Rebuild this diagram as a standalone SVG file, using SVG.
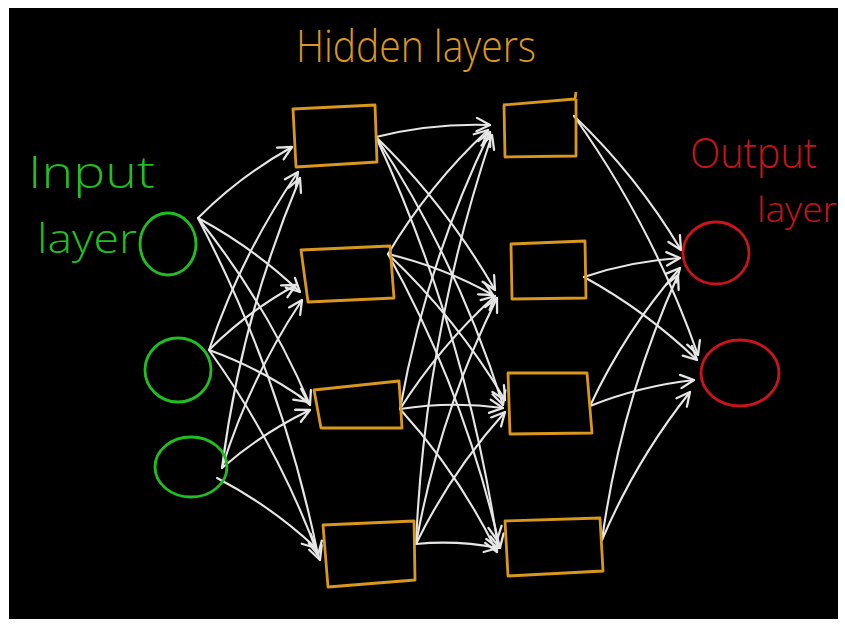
<svg xmlns="http://www.w3.org/2000/svg" width="845" height="625" viewBox="0 0 845 625">
<defs>
<marker id="arr" markerUnits="userSpaceOnUse" markerWidth="16" markerHeight="16" viewBox="0 0 12 12" refX="11" refY="6" orient="auto">
<path d="M1,1 L11,6 L1,11" fill="none" stroke="#e6e6e6" stroke-width="1.7" stroke-linecap="round" stroke-linejoin="round"/>
</marker>
<filter id="soft" x="-5%" y="-5%" width="110%" height="110%"><feGaussianBlur stdDeviation="0.5"/></filter>
</defs>
<style>
.bg{fill:#000}
.box{fill:none;stroke:#d9981c;stroke-width:2.8;stroke-linejoin:round}
.in{fill:none;stroke:#1fbf1f;stroke-width:2.8}
.out{fill:none;stroke:#c8141a;stroke-width:2.8}
.c{fill:none;stroke:#e6e6e6;stroke-width:2.1;stroke-linecap:round;marker-end:url(#arr)}
.t{font-family:"Open Sans","DejaVu Sans",sans-serif;font-weight:300}
</style>
<rect x="0" y="0" width="845" height="625" fill="#fff"/>
<rect class="bg" x="9" y="8" width="829" height="611"/>

<g id="connectors" filter="url(#soft)">
<path class="c" d="M198,218 Q240,176 292,147"/>
<path class="c" d="M198,218 Q254,248 300,292"/>
<path class="c" d="M198,218 Q267,304 310,405"/>
<path class="c" d="M198,218 Q282,378 318,555"/>
<path class="c" d="M209,350 Q241,255 298,172"/>
<path class="c" d="M209,350 Q248,311 296,285"/>
<path class="c" d="M209,350 Q262,369 308,402"/>
<path class="c" d="M209,350 Q279,447 320,560"/>
<path class="c" d="M222,468 Q241,318 300,178"/>
<path class="c" d="M222,468 Q250,378 302,300"/>
<path class="c" d="M222,468 Q262,433 310,410"/>
<path class="c" d="M217,478 Q271,506 316,548"/>

<path class="c" d="M376,137 Q432,123 490,125"/>
<path class="c" d="M376,137 Q446,205 495,290"/>
<path class="c" d="M376,137 Q458,262 503,405"/>
<path class="c" d="M376,137 Q465,330 497,540"/>
<path class="c" d="M388,254 Q429,185 488,130"/>
<path class="c" d="M388,254 Q443,267 493,295"/>
<path class="c" d="M388,254 Q457,319 505,400"/>
<path class="c" d="M388,254 Q465,393 500,548"/>
<path class="c" d="M400,409 Q426,264 490,132"/>
<path class="c" d="M400,409 Q440,346 495,296"/>
<path class="c" d="M400,409 Q451,401 503,408"/>
<path class="c" d="M400,409 Q459,474 497,552"/>
<path class="c" d="M416,544 Q425,334 492,135"/>
<path class="c" d="M416,544 Q439,415 497,298"/>
<path class="c" d="M416,544 Q451,472 505,412"/>
<path class="c" d="M416,544 Q457,540 498,548"/>

<path class="c" d="M574,116 Q637,176 681,250"/>
<path class="c" d="M574,116 Q653,227 698,355"/>
<path class="c" d="M584,277 Q631,261 680,258"/>
<path class="c" d="M584,277 Q646,311 697,360"/>
<path class="c" d="M590,406 Q625,331 680,268"/>
<path class="c" d="M590,406 Q640,386 694,380"/>
<path class="c" d="M602,540 Q621,402 678,275"/>
<path class="c" d="M602,540 Q636,460 690,392"/>
</g>

<g id="input1"><ellipse class="in" cx="168" cy="244" rx="28" ry="31"/></g>
<g id="input2"><ellipse class="in" cx="178" cy="370" rx="33" ry="32"/></g>
<g id="input3"><ellipse class="in" cx="191" cy="467" rx="36" ry="30"/></g>

<g id="h1a"><path class="box" d="M293,109 L375,105 L377,162 L296,167 Z"/></g>
<g id="h1b"><path class="box" d="M301,250 L390,246 L394,298 L308,302 Z"/></g>
<g id="h1c"><path class="box" d="M314,390 L399,381 L402,428 L321,428 Z"/></g>
<g id="h1d"><path class="box" d="M323,525 L414,521 L415,580 L328,587 Z"/></g>

<g id="h2a"><path class="box" d="M503,105 L575,99 L576,92 M576,99 L576,156 L505,157 L504,105"/></g>
<g id="h2b"><path class="box" d="M511,244 L585,241 L586,298 L512,299 Z"/></g>
<g id="h2c"><path class="box" d="M508,373 L587,373 L592,433 L510,434 Z"/></g>
<g id="h2d"><path class="box" d="M505,521 L600,518 L603,571 L508,576 Z"/></g>

<g id="output1"><ellipse class="out" cx="716" cy="253" rx="33" ry="31"/></g>
<g id="output2"><ellipse class="out" cx="740" cy="373" rx="39" ry="33"/></g>

<g id="labels">
<text class="t" x="296" y="62" font-size="44" fill="#d9981c" textLength="240" lengthAdjust="spacingAndGlyphs">Hidden layers</text>
<text class="t" x="28" y="188" font-size="44" fill="#1fbf1f" textLength="127" lengthAdjust="spacingAndGlyphs">Input</text>
<text class="t" x="37" y="253" font-size="40" fill="#1fbf1f" textLength="100" lengthAdjust="spacingAndGlyphs">layer</text>
<text class="t" x="690" y="168" font-size="42" fill="#c8141a" textLength="127" lengthAdjust="spacingAndGlyphs">Output</text>
<text class="t" x="757" y="222" font-size="35" fill="#c8141a" textLength="80" lengthAdjust="spacingAndGlyphs">layer</text>
</g>
</svg>
